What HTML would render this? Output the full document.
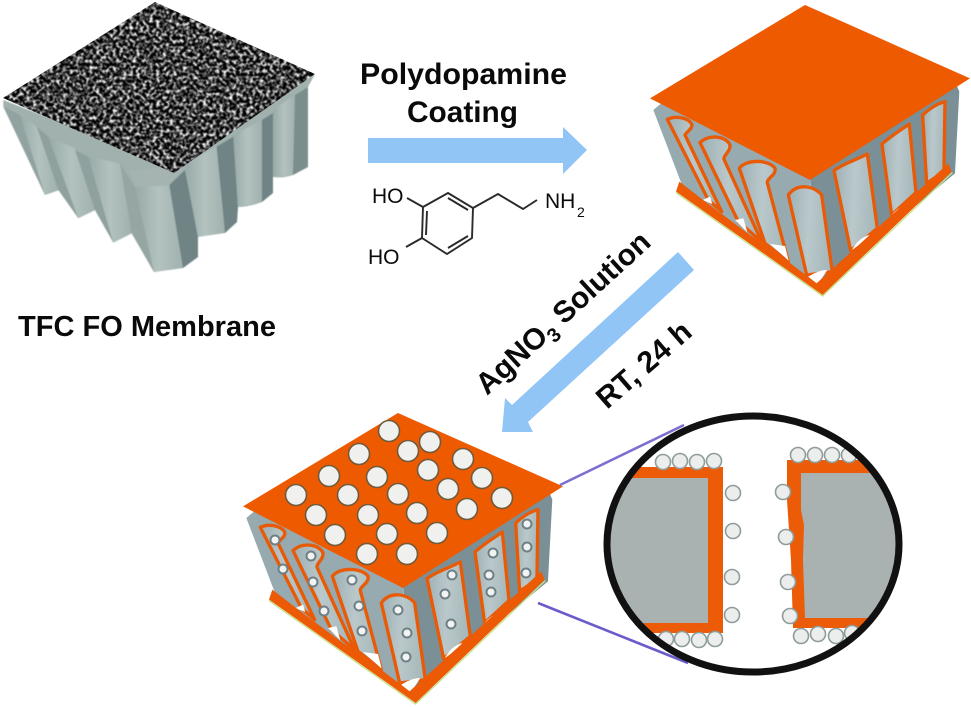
<!DOCTYPE html>
<html><head><meta charset="utf-8"><title>TFC FO Membrane</title>
<style>html,body{margin:0;padding:0;background:#fff}svg{display:block}
text{font-family:"Liberation Sans",sans-serif;fill:#0a0a0a}
.b{font-weight:700}</style></head><body>
<svg xmlns="http://www.w3.org/2000/svg" width="971" height="707" viewBox="0 0 971 707">
<defs>
<filter id="noise" x="0" y="0" width="100%" height="100%" color-interpolation-filters="sRGB">
<feTurbulence type="fractalNoise" baseFrequency="0.3" numOctaves="2" seed="7"/>
<feColorMatrix type="matrix" values="1 0 0 0 0 1 0 0 0 0 1 0 0 0 0 0 0 0 0 1"/>
<feComponentTransfer><feFuncR type="linear" slope="3.2" intercept="-1.36"/><feFuncG type="linear" slope="3.2" intercept="-1.36"/><feFuncB type="linear" slope="3.2" intercept="-1.36"/></feComponentTransfer>
<feGaussianBlur stdDeviation="0.4"/>
</filter>
<filter id="soft" x="-5%" y="-5%" width="110%" height="110%"><feGaussianBlur stdDeviation="1.6"/></filter>
<clipPath id="topclip"><polygon points="155,2 3,98 174,173 315,74"/></clipPath>
<clipPath id="lens"><ellipse cx="753" cy="544" rx="146" ry="128"/></clipPath>
<linearGradient id="g1" x1="0" x2="1" y1="0" y2="0"><stop offset="0" stop-color="#98aaa7"/><stop offset=".5" stop-color="#b3c2bf"/><stop offset="1" stop-color="#a0b1ae"/></linearGradient>
<linearGradient id="g2" x1="0" x2="1" y1="0" y2="0.1"><stop offset="0" stop-color="#9db0b4"/><stop offset=".5" stop-color="#bac8cb"/><stop offset="1" stop-color="#a6b8ba"/></linearGradient>
<g id="mem">
<polygon points="40,330 70,305 510,530 530,860 130,565" fill="#96aaaf"/>
<polygon points="510,530 950,255 958,275 945,520 540,855" fill="#7b9096"/>
<g fill="url(#g2)" stroke="#e95a06" stroke-width="10" stroke-linejoin="round">
<path d="M82,358C110,345 145,355 155,372C160,385 140,395 135,405L245,635 205,600Z"/>
<path d="M180,428C210,400 260,410 270,435C272,455 250,465 252,478L365,725 295,665Z"/>
<path d="M298,505C320,475 390,480 405,505C410,525 380,535 382,548L445,785 375,730Z"/>
<path d="M445,585C470,550 520,555 545,585L577,815 500,825Z"/>
<path d="M582,512C610,490 650,480 682,462L712,685 632,752Z"/>
<path d="M726,432C750,410 790,385 808,372L828,578 755,645Z"/>
<path d="M848,345C870,325 895,310 915,305L912,515 860,550Z"/>
</g>
<g fill="#fff">
<polygon points="188,600 210,590 217,612"/>
<polygon points="285,660 310,655 322,697"/>
<polygon points="390,732 435,738 446,782"/>
<path d="M505,830Q535,810 562,810L532,856Z"/>
<path d="M636,750Q650,720 685,705L690,712Z"/>
<path d="M755,645Q770,625 795,615L760,650Z"/>
</g>
<polygon points="118,545 205,612 330,705 385,740 530,850 925,490 935,515 548,885 108,575" fill="#ec5a06"/>
<polyline points="108,578 548,888 937,518" fill="none" stroke="#c8e08a" stroke-width="4"/>
<polygon points="495,15 30,295 510,540 990,235" fill="#ee5a00"/>
</g>
</defs>

<!-- membrane 1 -->
<g transform="scale(.3333)">
<g filter="url(#soft)">
<path d="M10,300L10,320 135,585 178,570 235,655 285,630 340,728 395,700 462,816 549,804 594,771 594,711Q630,700 675,699L711,666 714,621Q750,620 786,606L819,579 819,531Q850,535 879,525L924,501 924,261 945,222 520,500Z" fill="#a0b1ae"/>
<polygon points="10,320 60,345 135,585" fill="#91a3a0"/>
<polygon points="60,345 110,380 175,570 135,585" fill="url(#g1)"/>
<polygon points="110,380 145,410 235,655 175,570" fill="#8fa19e"/>
<polygon points="145,410 225,445 285,630 235,655" fill="url(#g1)"/>
<polygon points="225,450 265,470 340,728 285,630" fill="#8fa19e"/>
<polygon points="265,470 360,490 395,700 340,728" fill="url(#g1)"/>
<polygon points="360,490 405,560 462,816 395,700" fill="#95a6a3"/>
<polygon points="405,560 508,555 549,804 462,816" fill="url(#g1)"/>
<polygon points="508,555 555,510 594,711 594,771 549,804" fill="#6f8385"/>
<polygon points="555,490 650,440 675,699 594,711" fill="url(#g1)"/>
<polygon points="650,440 700,410 714,621 711,666 675,699" fill="#708486"/>
<polygon points="700,405 786,360 786,606 714,621" fill="url(#g1)"/>
<polygon points="786,360 819,339 819,579 786,606" fill="#708486"/>
<polygon points="819,330 885,285 879,525 819,531" fill="url(#g1)"/>
<polygon points="885,285 924,261 924,501 879,525" fill="#7a8e8c"/>
</g>
<polygon points="390,510 555,500 508,555 405,560" fill="#a5b4b1"/>
</g>
<g clip-path="url(#topclip)"><rect x="0" y="0" width="320" height="180" filter="url(#noise)"/></g>

<!-- membrane 2 -->
<g transform="translate(640,0) scale(.3333)"><use href="#mem"/></g>

<!-- membrane 3 -->
<g transform="translate(233,408) scale(.3333)"><use href="#mem"/></g>
<g fill="#f0f0ee" stroke="#6e5a3c" stroke-width="1.6" transform="translate(235,400)">
<circle cx="154" cy="31" r="10.5"/><circle cx="195" cy="42" r="10.5"/><circle cx="173" cy="51" r="10.5"/><circle cx="228" cy="59" r="10.5"/><circle cx="124" cy="54" r="10.5"/><circle cx="193" cy="70" r="10.5"/><circle cx="247" cy="78" r="10.5"/><circle cx="94" cy="76" r="10.5"/><circle cx="142" cy="77" r="10.5"/><circle cx="213" cy="89" r="10.5"/><circle cx="267" cy="98" r="10.5"/><circle cx="61" cy="95" r="10.5"/><circle cx="113" cy="95" r="10.5"/><circle cx="163" cy="94" r="10.5"/><circle cx="232" cy="109" r="10.5"/><circle cx="81" cy="115" r="10.5"/><circle cx="133" cy="115" r="10.5"/><circle cx="182" cy="113" r="10.5"/><circle cx="202" cy="133" r="10.5"/><circle cx="100" cy="135" r="10.5"/><circle cx="152" cy="134" r="10.5"/><circle cx="132" cy="154" r="10.5"/><circle cx="172" cy="154" r="10.5"/>
</g>
<g fill="#f2f4f4" stroke="#6f8084" stroke-width="2" transform="translate(235,400)">
<circle cx="40" cy="140" r="4.5"/><circle cx="48" cy="169" r="4.5"/><circle cx="76" cy="156" r="4.5"/><circle cx="78" cy="182" r="4.5"/><circle cx="89" cy="211" r="4.5"/><circle cx="117" cy="180" r="4.5"/><circle cx="124" cy="206" r="4.5"/><circle cx="127" cy="231" r="4.5"/><circle cx="163" cy="210" r="4.5"/><circle cx="172" cy="233" r="4.5"/><circle cx="171" cy="257" r="4.5"/><circle cx="217" cy="175" r="4.5"/><circle cx="210" cy="194" r="4.5"/><circle cx="216" cy="224" r="4.5"/><circle cx="258" cy="153" r="4.5"/><circle cx="254" cy="175" r="4.5"/><circle cx="256" cy="192" r="4.5"/><circle cx="292" cy="124" r="4.5"/><circle cx="292" cy="147" r="4.5"/><circle cx="291" cy="173" r="4.5"/>
</g>

<!-- arrows -->
<polygon points="368,138 563,138 563,127 587,150 563,174 563,163 368,163" fill="#90c5f6"/>
<polygon points="678,252 694,270 528,422 533,432 502,432 505,398 512,405" fill="#90c5f6"/>

<!-- connector lines -->
<line x1="560" y1="485" x2="684" y2="425" stroke="#7c6fd0" stroke-width="2.6"/>
<line x1="538" y1="603" x2="688" y2="663" stroke="#6a5ccb" stroke-width="2.6"/>

<!-- lens -->
<ellipse cx="753" cy="544" rx="146" ry="128" fill="#fff"/>
<g clip-path="url(#lens)">
<rect x="590" y="467" width="133" height="166" fill="#ec5c08"/>
<rect x="590" y="478" width="118" height="145" fill="#a9b2b1"/>
<polygon points="787,460 920,460 920,628 793,628 791,560 787,500" fill="#ec5c08"/>
<polygon points="801,473 920,473 920,618 805,618 803,560 804,525 801,510" fill="#a9b2b1"/>
<g fill="#eceeee" stroke="#8f9c9a" stroke-width="1.6">
<circle cx="663" cy="462" r="7.5"/><circle cx="680" cy="461" r="7.5"/><circle cx="697" cy="462" r="7.5"/><circle cx="714" cy="461" r="7.5"/>
<circle cx="666" cy="639" r="7.5"/><circle cx="682" cy="639" r="7.5"/><circle cx="699" cy="640" r="7.5"/><circle cx="715" cy="639" r="7.5"/>
<circle cx="733" cy="493" r="7.5"/><circle cx="733" cy="531" r="7.5"/><circle cx="732" cy="577" r="7.5"/><circle cx="732" cy="615" r="7.5"/>
<circle cx="783" cy="492" r="7.5"/><circle cx="786" cy="537" r="7.5"/><circle cx="788" cy="582" r="7.5"/><circle cx="790" cy="616" r="7.5"/>
<circle cx="798" cy="455" r="7.5"/><circle cx="815" cy="455" r="7.5"/><circle cx="832" cy="455" r="7.5"/><circle cx="849" cy="455" r="7.5"/>
<circle cx="801" cy="636" r="7.5"/><circle cx="818" cy="634" r="7.5"/><circle cx="836" cy="636" r="7.5"/><circle cx="852" cy="633" r="7.5"/>
</g>
</g>
<ellipse cx="753" cy="544" rx="146" ry="128" fill="none" stroke="#111" stroke-width="7"/>

<!-- molecule -->
<g fill="none" stroke="#2a2a2a" stroke-width="1.9">
<polygon points="448,193 473,208 472,238 447,254 422,238 423,207"/>
<line x1="427" y1="211" x2="426" y2="235"/>
<line x1="448" y1="198" x2="468" y2="210"/>
<line x1="448" y1="248" x2="468" y2="236"/>
<polyline points="473,208 498,194 523,209 537,200"/>
<line x1="423" y1="207" x2="407" y2="198"/>
<line x1="422" y1="238" x2="406" y2="247"/>
</g>
<text x="372" y="203" font-size="21">HO</text>
<text x="368" y="264" font-size="21">HO</text>
<text x="545" y="208" font-size="21">NH</text>
<text x="577" y="217" font-size="14">2</text>

<!-- labels -->
<text class="b" x="360" y="84" font-size="30" textLength="207" lengthAdjust="spacingAndGlyphs">Polydopamine</text>
<text class="b" x="407" y="122" font-size="30" textLength="111" lengthAdjust="spacingAndGlyphs">Coating</text>
<text class="b" x="18" y="336" font-size="29" textLength="258" lengthAdjust="spacingAndGlyphs">TFC FO Membrane</text>
<g transform="translate(487,396) rotate(-42.5)">
<text class="b" x="0" y="0" font-size="30">AgNO<tspan font-size="20" dy="7">3</tspan><tspan dy="-7"> Solution</tspan></text>
</g>
<text class="b" transform="translate(607,410) rotate(-41)" font-size="30" textLength="115" lengthAdjust="spacingAndGlyphs">RT, 24 h</text>
</svg>
</body></html>
